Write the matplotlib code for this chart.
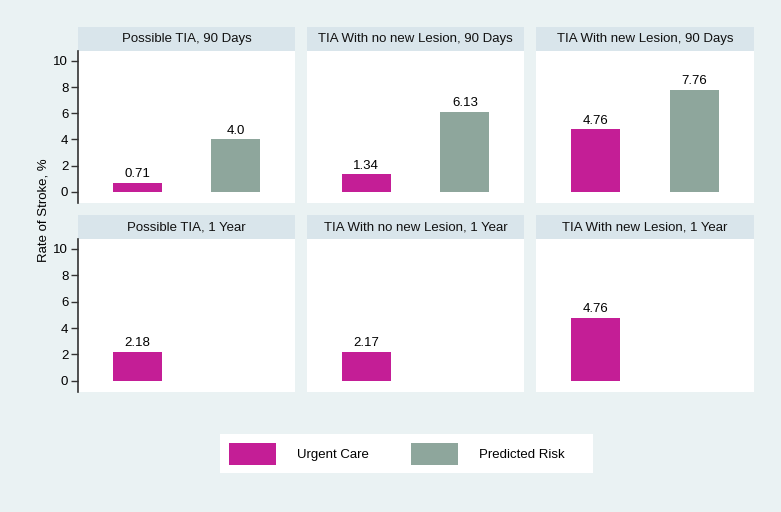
import matplotlib.pyplot as plt
from matplotlib.patches import Patch, Rectangle

# data
panel_titles = [
    "Possible TIA, 90 Days", "TIA With no new Lesion, 90 Days", "TIA With new Lesion, 90 Days",
    "Possible TIA, 1 Year", "TIA With no new Lesion, 1 Year", "TIA With new Lesion, 1 Year",
]
urgent_care = [0.71, 1.34, 4.76, 2.18, 2.17, 4.76]
urgent_labels = ["0.71", "1.34", "4.76", "2.18", "2.17", "4.76"]
predicted_risk = [4.0, 6.13, 7.76, None, None, None]
predicted_labels = ["4.0", "6.13", "7.76", None, None, None]
yticks = [0, 2, 4, 6, 8, 10]

c_urgent = "#C41E96"
c_pred = "#8EA69C"
bg = "#EAF2F3"
strip_col = "#D9E5EB"

W, H = 781, 512
fig = plt.figure(figsize=(W / 100, H / 100), dpi=100, facecolor=bg)
plt.rcParams['font.family'] = ['Liberation Sans', 'DejaVu Sans']

cols = [(78, 295), (307, 524), (536, 754)]
rows = [(27, 51, 203), (215, 239, 392)]  # strip top, plot top, plot bottom


def px_axes(x0, y0, x1, y1):
    return fig.add_axes([x0 / W, 1 - y1 / H, (x1 - x0) / W, (y1 - y0) / H])


for i, title in enumerate(panel_titles):
    r, c = divmod(i, 3)
    x0, x1 = cols[c]
    st, pt, pb = rows[r]

    # strip
    sax = px_axes(x0, st, x1, pt)
    sax.set_facecolor(strip_col)
    sax.set_xticks([])
    sax.set_yticks([])
    for s in sax.spines.values():
        s.set_visible(False)
    sax.text(0.5, 0.5, title, ha='center', va='center', fontsize=9.5, color='#111111',
             transform=sax.transAxes)

    ax = px_axes(x0, pt, x1, pb)
    ax.set_facecolor('white')
    ax.bar(0, urgent_care[i], width=0.5, color=c_urgent)
    ax.annotate(urgent_labels[i], (0, urgent_care[i]), xytext=(0, 2),
                textcoords='offset points', ha='center', va='bottom', fontsize=9.5)
    if predicted_risk[i] is not None:
        ax.bar(1, predicted_risk[i], width=0.5, color=c_pred)
        ax.annotate(predicted_labels[i], (1, predicted_risk[i]), xytext=(0, 2),
                    textcoords='offset points', ha='center', va='bottom', fontsize=9.5)
    ax.set_xlim(-0.6, 1.6)
    ax.set_ylim(-0.85, 10.75)
    ax.set_xticks([])
    for s in ['top', 'right', 'bottom']:
        ax.spines[s].set_visible(False)
    if c == 0:
        ax.spines['left'].set_color('#333333')
        ax.spines['left'].set_linewidth(1.2)
        ax.set_yticks(yticks)
        ax.tick_params(axis='y', length=5, width=1, color='#333333', labelsize=9.5, pad=2)
    else:
        ax.spines['left'].set_visible(False)
        ax.set_yticks([])

fig.text(43 / W, 1 - 210 / H, "Rate of Stroke, %", rotation=90, ha='center', va='center',
         fontsize=9.5)

# legend box (white panel), legend itself frameless inside it
fig.patches.append(Rectangle((220 / W, 1 - 473 / H), 373 / W, 39 / H,
                             transform=fig.transFigure, facecolor='white',
                             edgecolor='none', zorder=0))
handles = [Patch(facecolor=c_urgent, label="Urgent Care"),
           Patch(facecolor=c_pred, label="Predicted Risk")]
leg = fig.legend(handles=handles, loc='center left', ncol=2,
                 bbox_to_anchor=(229 / W, 1 - 454 / H), fontsize=9.5,
                 handlelength=3.55, handleheight=2.1, handletextpad=1.6, columnspacing=3.2,
                 frameon=False, borderpad=0, borderaxespad=0)

fig.savefig("out.png", dpi=100, facecolor=bg)
